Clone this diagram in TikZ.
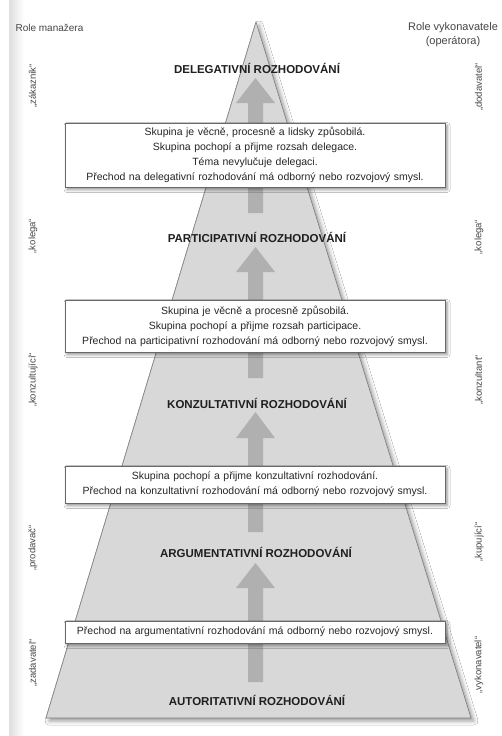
\documentclass[tikz,border=0pt]{standalone}
\usepackage{fontspec}
\setmainfont{Liberation Sans}
\usetikzlibrary{shadows.blur}

\definecolor{pyrfill}{RGB}{216,216,216}
\definecolor{pyredge}{RGB}{125,125,125}
\definecolor{arrowfill}{RGB}{176,176,176}
\definecolor{boxedge}{RGB}{105,105,105}
\definecolor{ink}{RGB}{38,38,38}
\definecolor{roleink}{RGB}{70,70,70}

\tikzset{
  condbox/.style={draw=boxedge, line width=0.6pt, fill=white,
    minimum width=380pt, inner sep=0pt, text width=376pt, align=center,
    text=ink, font=\fontsize{10.5}{15}\selectfont,
    blur shadow={shadow xshift=2pt, shadow yshift=-2.5pt,
      shadow blur radius=3pt, shadow opacity=45}},
  lvltext/.style={font=\bfseries\fontsize{11.5}{13}\selectfont, text=black!88},
  roletext/.style={rotate=90, font=\fontsize{9.5}{11}\selectfont, text=roleink},
  hdrtext/.style={font=\fontsize{10}{12}\selectfont, text=roleink, align=center},
}

% axis of the rising arrows
\def\axisx{255.5}
% #1 tip, #2 head base, #3 shaft end (all y)
\newcommand\riseArrow[3]{%
  \fill[arrowfill] (\axisx,#1) -- (\axisx+19.5,#2) -- (\axisx+7.5,#2)
    -- (\axisx+7.5,#3) -- (\axisx-7.5,#3) -- (\axisx-7.5,#2)
    -- (\axisx-19.5,#2) -- cycle;}

\begin{document}
\begin{tikzpicture}[x=1pt,y=-1pt]
\useasboundingbox (0,0) rectangle (501,736);
\fill[white] (0,0) rectangle (501,736);
\shade[left color=black!13, right color=white] (9,0) rectangle (24,736);

% pyramid
\coordinate (apex) at (256,22);
\coordinate (baseL) at (46,718);
\coordinate (baseR) at (471,718);
\filldraw[fill=pyrfill, draw=pyredge, line width=0.6pt,
  blur shadow={shadow xshift=3pt, shadow yshift=-3pt,
    shadow blur radius=4pt, shadow opacity=40}]
  (apex) -- (baseR) -- (baseL) -- cycle;

% rising arrows (shafts run under the boxes)
\riseArrow{78}{103}{213}
\riseArrow{247}{272}{378}
\riseArrow{412}{438}{532}
\riseArrow{563}{588}{682}

% transition conditions
\node[condbox, minimum height=64pt] (box1) at (255,155)
  {Skupina je věcně, procesně a lidsky způsobilá.\\
   Skupina pochopí a přijme rozsah delegace.\\
   Téma nevylučuje delegaci.\\
   Přechod na delegativní rozhodování má odborný nebo rozvojový smysl.};
\node[condbox, minimum height=52pt] (box2) at (255,326)
  {Skupina je věcně a procesně způsobilá.\\
   Skupina pochopí a přijme rozsah participace.\\
   Přechod na participativní rozhodování má odborný nebo rozvojový smysl.};
\node[condbox, minimum height=37pt] (box3) at (255,484.5)
  {Skupina pochopí a přijme konzultativní rozhodování.\\
   Přechod na konzultativní rozhodování má odborný nebo rozvojový smysl.};
\node[condbox, minimum height=22pt] (box4) at (255,632)
  {Přechod na argumentativní rozhodování má odborný nebo rozvojový smysl.};

% decision levels
\node[lvltext] (lvl5) at (257,68) {DELEGATIVNÍ ROZHODOVÁNÍ};
\node[lvltext] (lvl4) at (257,237) {PARTICIPATIVNÍ ROZHODOVÁNÍ};
\node[lvltext] (lvl3) at (257,403) {KONZULTATIVNÍ ROZHODOVÁNÍ};
\node[lvltext] (lvl2) at (256,552) {ARGUMENTATIVNÍ ROZHODOVÁNÍ};
\node[lvltext] (lvl1) at (257,700) {AUTORITATIVNÍ ROZHODOVÁNÍ};

% headers
\node[hdrtext, anchor=west] (hdrL) at (12,28) {Role manažera};
\node[hdrtext, font=\fontsize{11}{14}\selectfont] (hdrR) at (453,35)
  {Role vykonavatele\\(operátora)};

% manager roles
\node[roletext] (mgr5) at (33,86) {„zákazník“};
\node[roletext] (mgr4) at (33,236) {„kolega“};
\node[roletext] (mgr3) at (33,380) {„konzultující“};
\node[roletext] (mgr2) at (33,548) {„prodavač“};
\node[roletext] (mgr1) at (33,663) {„zadavatel“};

% operator roles
\node[roletext] (op5) at (479,87) {„dodavatel“};
\node[roletext] (op4) at (479,237) {„kolega“};
\node[roletext] (op3) at (479,380) {„konzultant“};
\node[roletext] (op2) at (479,542) {„kupující“};
\node[roletext] (op1) at (479,665) {„vykonavatel“};
\end{tikzpicture}
\end{document}
